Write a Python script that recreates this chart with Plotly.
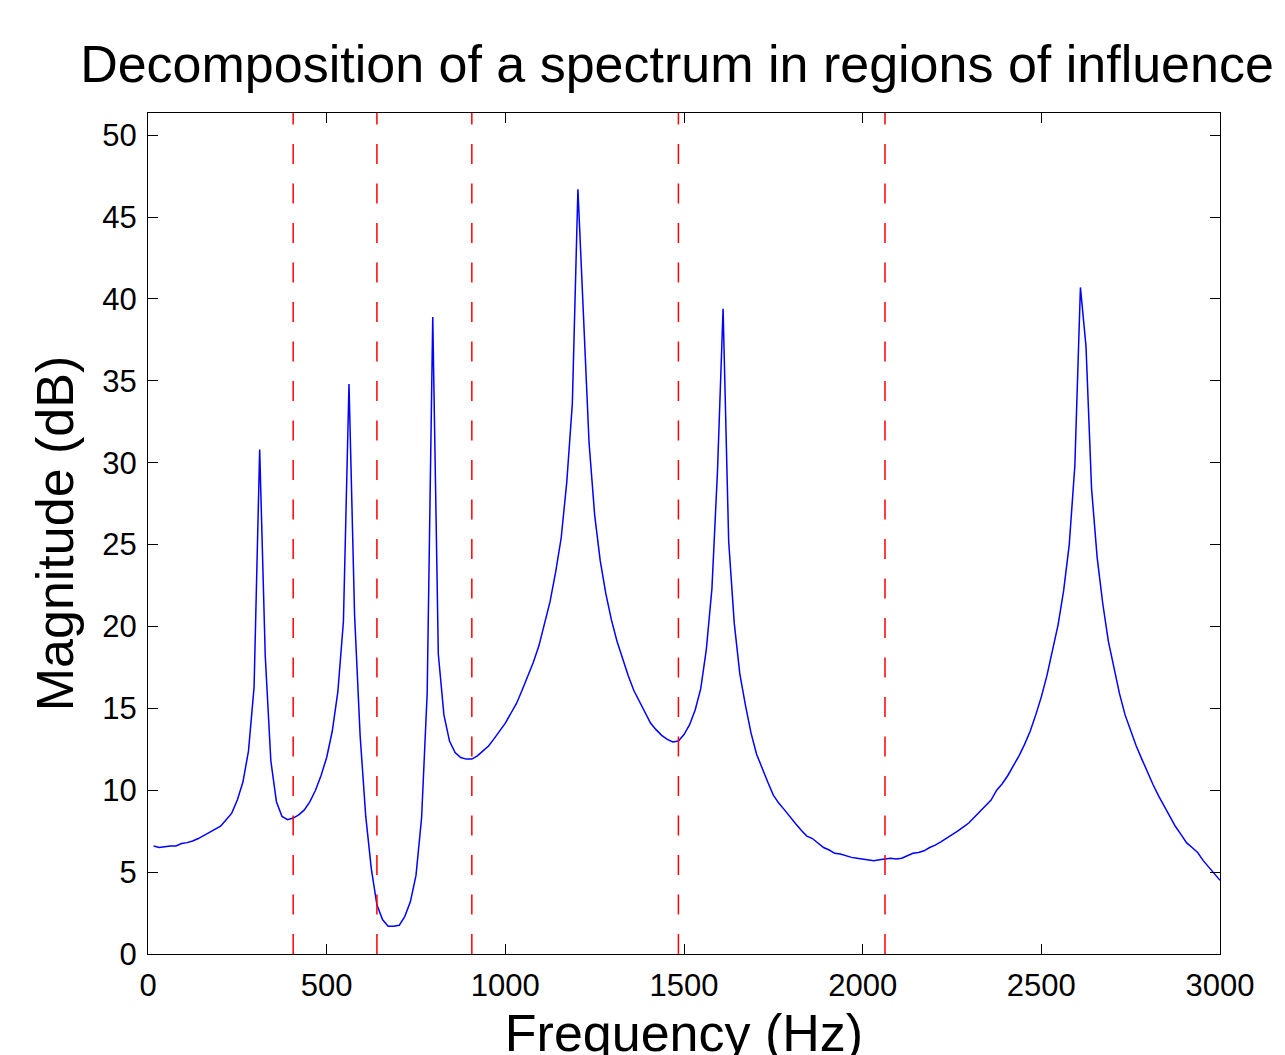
import plotly.graph_objects as go

# FFT bin spacing of the spectrum (Hz) and bin indices shown (1..192)
BIN_HZ = 15.625
bins = list(range(1, 193))
freq_hz = [k * BIN_HZ for k in bins]

# Magnitude (dB), one value per bin
magnitude_db = [
    6.6, 6.5, 6.55, 6.6, 6.6, 6.75, 6.8, 6.9, 7.05, 7.25,
    7.45, 7.6, 7.8, 8.2, 8.6, 9.4, 10.5, 12.4, 16.3, 30.8,
    18.2, 11.8, 9.3, 8.4, 8.2, 8.3, 8.5, 8.8, 9.3, 10.0,
    10.9, 12.0, 13.6, 16.0, 20.3, 34.8, 20.7, 13.3, 8.4, 5.2,
    3.0, 2.1, 1.7, 1.7, 1.75, 2.3, 3.2, 4.8, 8.3, 15.9,
    38.9, 18.3, 14.6, 13.0, 12.3, 12.0, 11.9, 11.9, 12.1, 12.4,
    12.7, 13.15, 13.6, 14.1, 14.7, 15.3, 16.1, 16.9, 17.8, 18.8,
    20.1, 21.5, 23.3, 25.4, 28.8, 33.6, 46.7, 39.0, 31.2, 26.8,
    24.0, 22.0, 20.4, 19.1, 18.0, 17.0, 16.1, 15.4, 14.7, 14.1,
    13.7, 13.35, 13.1, 12.95, 13.0, 13.4, 14.0, 14.9, 16.2, 18.6,
    22.3, 29.5, 39.4, 25.2, 20.2, 17.1, 15.2, 13.5, 12.2, 11.3,
    10.5, 9.7, 9.2, 8.8, 8.35, 7.95, 7.55, 7.2, 7.05, 6.75,
    6.5, 6.35, 6.15, 6.1, 6.0, 5.9, 5.85, 5.8, 5.75, 5.7,
    5.75, 5.8, 5.85, 5.8, 5.85, 6.0, 6.15, 6.2, 6.3, 6.5,
    6.65, 6.85, 7.05, 7.3, 7.5, 7.75, 8.0, 8.35, 8.7, 9.0,
    9.4, 10.0, 10.4, 10.9, 11.5, 12.1, 12.8, 13.6, 14.6, 15.7,
    17.0, 18.5, 20.1, 22.2, 25.0, 29.8, 40.7, 37.1, 28.4, 24.2,
    21.4, 19.1, 17.4, 15.9, 14.6, 13.6, 12.7, 11.9, 11.1, 10.35,
    9.65, 9.0, 8.4, 7.8, 7.3, 6.8, 6.5, 6.2, 5.7, 5.3,
    4.9, 4.5,
]

# Region-of-influence boundaries (Hz)
boundaries_hz = [406.25, 640.625, 906.25, 1484.375, 2062.5]

x_ticks = [0, 500, 1000, 1500, 2000, 2500, 3000]
y_ticks = [0, 5, 10, 15, 20, 25, 30, 35, 40, 45, 50]
X_RANGE = [0, 3000]
Y_RANGE = [0, 51.35]

FONT = "Liberation Sans, Arial, Helvetica, sans-serif"

fig = go.Figure()

fig.add_trace(go.Scatter(
    x=freq_hz, y=magnitude_db, mode="lines",
    line=dict(color="#0000FF", width=1.5),
    showlegend=False, hoverinfo="x+y",
))

for b in boundaries_hz:
    fig.add_trace(go.Scatter(
        x=[b, b], y=[Y_RANGE[0], Y_RANGE[1]], mode="lines",
        line=dict(color="#FF0000", width=1.5, dash="20px,19.5px"),
        showlegend=False, hoverinfo="skip",
    ))

axis_common = dict(
    showgrid=False, zeroline=False,
    showline=True, linecolor="black", linewidth=1.3,
    mirror="allticks", ticks="inside", ticklen=10, tickwidth=1.2,
    tickcolor="black",
    tickfont=dict(family=FONT, size=31, color="black"),
)

fig.update_layout(
    width=1285, height=1055,
    margin=dict(l=140, r=73, t=105, b=109),
    paper_bgcolor="white", plot_bgcolor="white",
    title=dict(
        text="Decomposition of a spectrum in regions of influence",
        font=dict(family=FONT, size=52, color="black"),
        x=0.5 - 7 / 1072, xref="paper", xanchor="center",
        y=1 - 56 / 1055, yref="container", yanchor="middle",
    ),
    xaxis=dict(
        range=X_RANGE, tickvals=x_ticks, ticktext=[str(v) for v in x_ticks],
        title=dict(text="Frequency (Hz)", font=dict(family=FONT, size=52, color="black"), standoff=12),
        ticklabelstandoff=4,
        automargin=False,
        **axis_common,
    ),
    yaxis=dict(
        range=Y_RANGE, tickvals=y_ticks, ticktext=[str(v) for v in y_ticks],
        title=dict(text="Magnitude (dB)", font=dict(family=FONT, size=52, color="black"), standoff=11),
        ticklabelstandoff=4,
        automargin=False,
        **axis_common,
    ),
)

fig.write_html("out.html")
